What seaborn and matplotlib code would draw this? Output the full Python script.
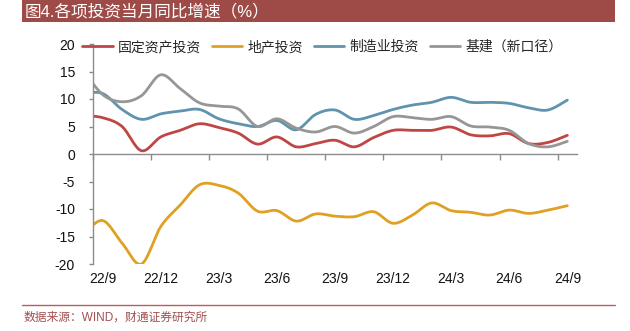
import numpy as np
import pandas as pd
import matplotlib
matplotlib.use("Agg")
import matplotlib.pyplot as plt
from matplotlib.patches import Rectangle
from matplotlib.lines import Line2D
import seaborn as sns

# ---------------- data ----------------
months = ['22/8', '22/9', '22/10', '22/11', '22/12', '23/1', '23/2', '23/3', '23/4',
          '23/5', '23/6', '23/7', '23/8', '23/9', '23/10', '23/11', '23/12', '24/1',
          '24/2', '24/3', '24/4', '24/5', '24/6', '24/7', '24/8', '24/9']
fai = [7.0, 6.6, 5.0, 0.6, 3.1, 4.3, 5.5, 4.8, 3.8, 1.8, 3.1, 1.3, 1.9, 2.5, 1.3,
       3.0, 4.3, 4.3, 4.3, 4.9, 3.5, 3.3, 3.7, 1.9, 2.1, 3.4]
realestate = [-14.6, -12.1, -16.2, -20.0, -13.2, -9.3, -5.6, -5.7, -7.1, -10.4, -10.3,
              -12.2, -10.9, -11.3, -11.4, -10.5, -12.6, -11.1, -8.9, -10.3, -10.6,
              -11.1, -10.2, -10.8, -10.2, -9.4]
manufacturing = [11.0, 11.0, 8.1, 6.3, 7.3, 7.8, 8.1, 6.4, 5.5, 5.0, 6.1, 4.4, 7.2,
                 8.0, 6.3, 7.0, 8.1, 8.9, 9.4, 10.3, 9.4, 9.4, 9.2, 8.4, 8.0, 9.8]
infra = [15.2, 10.8, 9.5, 10.6, 14.4, 11.9, 9.3, 8.7, 8.2, 5.0, 6.4, 4.7, 4.0, 5.0,
         3.8, 5.0, 6.8, 6.6, 6.3, 6.8, 5.1, 4.9, 4.3, 1.9, 1.3, 2.3]
series_names = ['固定资产投资', '地产投资', '制造业投资', '基建（新口径）']
colors = ['#BF4644', '#E0A022', '#5F93AE', '#969696']
tick_labels = ['22/9', '22/12', '23/3', '23/6', '23/9', '23/12', '24/3', '24/6', '24/9']
yticks = [-20, -15, -10, -5, 0, 5, 10, 15, 20]
title = '图4.各项投资当月同比增速（%）'
source = '数据来源：WIND，财通证券研究所'

# --------------- helpers ---------------
def smooth(xs, ys, n=16):
    """Excel-like smoothed line (Catmull-Rom Bezier) through the data points."""
    P = np.column_stack([xs, ys]).astype(float)
    out = []
    for i in range(len(P) - 1):
        p0 = P[i - 1] if i > 0 else P[i]
        p1, p2 = P[i], P[i + 1]
        p3 = P[i + 2] if i + 2 < len(P) else P[i + 1]
        c1 = p1 + (p2 - p0) / 6.0
        c2 = p2 - (p3 - p1) / 6.0
        t = np.linspace(0, 1, n, endpoint=(i == len(P) - 2))[:, None]
        seg = ((1 - t) ** 3) * p1 + 3 * ((1 - t) ** 2) * t * c1 + 3 * (1 - t) * t ** 2 * c2 + t ** 3 * p2
        out.append(seg)
    out = np.vstack(out)
    return out[:, 0], out[:, 1]

# --------------- style ---------------
sns.set_style('white')
plt.rcParams['font.family'] = ['Liberation Sans', 'Noto Sans CJK SC', 'DejaVu Sans']
plt.rcParams['axes.unicode_minus'] = False

W, H = 630, 331
fig = plt.figure(figsize=(W / 100, H / 100), dpi=100)
ax = fig.add_axes([93 / W, 1 - 264 / H, (577 - 93) / W, (264 - 44) / H])

# month index -> x position (category centred, first label 22/9 at 0.5)
xpos = np.arange(len(months)) - 0.5

for name, vals, col in zip(series_names, [fai, realestate, manufacturing, infra], colors):
    sx, sy = smooth(xpos, vals)
    df = pd.DataFrame({'x': sx, 'y': sy})
    sns.lineplot(data=df, x='x', y='y', sort=False, estimator=None, color=col,
                 lw=2.0, ax=ax, label=name)

ax.set_xlim(0, 25)
ax.set_ylim(-20, 20)
ax.set_xlabel('')
ax.set_ylabel('')

axis_col = '#8C8C8C'
for s in ['top', 'right']:
    ax.spines[s].set_visible(False)
ax.spines['left'].set_color(axis_col)
ax.spines['left'].set_linewidth(1.0)
ax.spines['bottom'].set_position(('data', 0))
ax.spines['bottom'].set_color(axis_col)
ax.spines['bottom'].set_linewidth(1.0)

ax.set_yticks(yticks)
ax.set_yticklabels([str(v) for v in yticks])
ax.tick_params(axis='y', direction='out', length=3, width=1, color=axis_col,
               pad=10, labelsize=10, labelcolor='#111111', left=True)
ax.set_xticks(np.arange(0, 25, 3))
ax.tick_params(axis='x', direction='out', length=4, width=1, color=axis_col,
               labelbottom=False, bottom=True)

sec = ax.secondary_xaxis(location=0)
sec.set_xticks(np.arange(len(tick_labels)) * 3 + 0.5)
sec.set_xticklabels(tick_labels)
sec.tick_params(axis='x', length=0, pad=6, labelsize=10, labelcolor='#111111')
sec.spines['bottom'].set_visible(False)

ax.legend(loc='center left', bbox_to_anchor=(82 / W, 1 - 47 / H),
          bbox_transform=fig.transFigure, ncol=4, frameon=False, fontsize=10,
          handlelength=2.2, handletextpad=0.4, columnspacing=0.75,
          borderpad=0, borderaxespad=0)

# title bar
bar_col = '#9E4A47'
fig.patches.append(Rectangle((22 / W, 1 - 22 / H), (615 - 22) / W, 22 / H,
                             transform=fig.transFigure, facecolor=bar_col,
                             edgecolor='none', zorder=0))
fig.text(25 / W, 1 - 11.5 / H, title, color='white', fontsize=12, va='center', ha='left')

# footer
fig.add_artist(Line2D([22 / W, 615 / W], [1 - 305 / H] * 2, color='#B9605C', lw=1.0))
fig.text(24 / W, 1 - 318 / H, source, color='#A0504E', fontsize=8.5, va='center', ha='left')

fig.savefig('out.png', dpi=100)
